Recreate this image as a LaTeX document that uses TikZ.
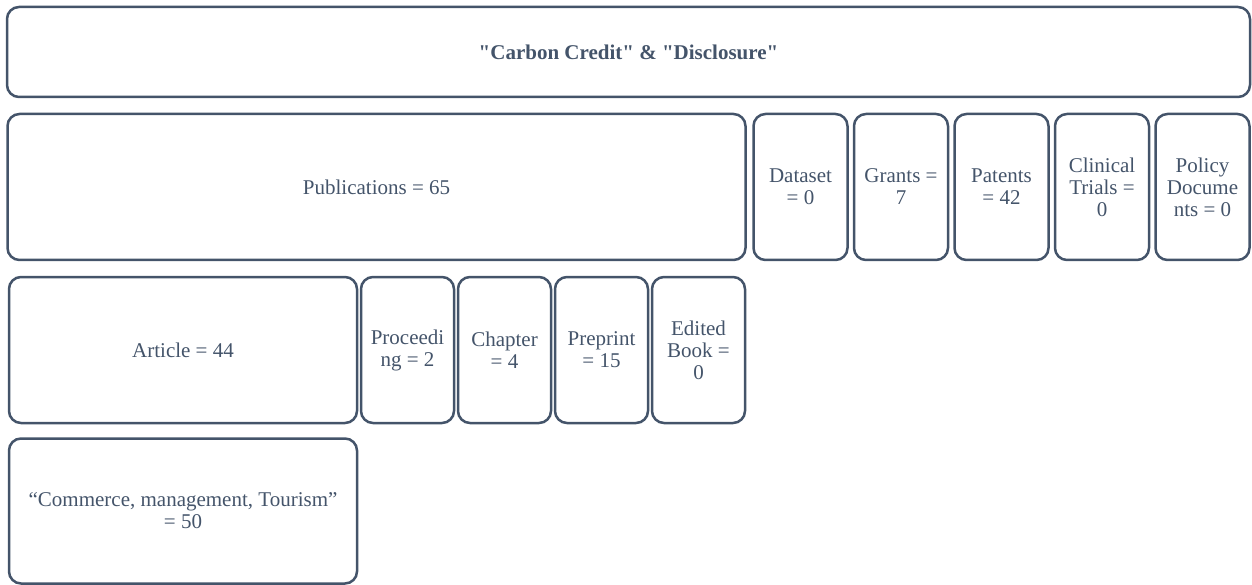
\documentclass[tikz,border=0pt]{standalone}
\usepackage{fontspec}
\setmainfont{Liberation Serif}
\usetikzlibrary{positioning}
\definecolor{slate}{HTML}{44546A}
\tikzset{
  box/.style={draw=slate, line width=2.5pt, rounded corners=12pt, text=slate,
    align=center, inner sep=0pt, outer sep=0pt, font=\fontsize{21}{22}\selectfont},
  tall/.style={box, minimum width=93pt, minimum height=146pt},
}
\begin{document}
\begin{tikzpicture}[x=1pt,y=-1pt]
    \useasboundingbox (0,0) rectangle (1252,585);
    \node (title) [box, minimum width=1243pt, minimum height=90pt,
      font=\fontsize{21}{22}\selectfont\bfseries] at (628.5,52)
      {\textquotedbl Carbon Credit\textquotedbl{} \& \textquotedbl Disclosure\textquotedbl};
    % second row
    \node (pub) [box, minimum width=738pt, minimum height=146pt] at (376.5,187) {Publications = 65};
    \node (dataset) [tall, minimum width=94pt, right=8pt of pub] {Dataset\\= 0};
    \node (grants) [tall, minimum width=94pt, right=6.5pt of dataset] {Grants =\\7};
    \node (patents) [tall, minimum width=94pt, right=6.5pt of grants] {Patents\\= 42};
    \node (clinical) [tall, minimum width=94pt, right=6.5pt of patents] {Clinical\\Trials =\\0};
    \node (policy) [tall, minimum width=94pt, right=6.5pt of clinical] {Policy\\Docume\\nts = 0};
    % third row
    \node (article) [box, minimum width=348pt, minimum height=146pt] at (183,350) {Article = 44};
    \node (proceeding) [tall, right=4pt of article] {Proceedi\\ng = 2};
    \node (chapter) [tall, right=4pt of proceeding] {Chapter\\= 4};
    \node (preprint) [tall, right=4pt of chapter] {Preprint\\= 15};
    \node (edited) [tall, right=4pt of preprint] {Edited\\Book =\\0};
    % subject area
    \node (commerce) [box, minimum width=348pt, minimum height=145pt] at (183,511) {“Commerce, management, Tourism”\\= 50};
\end{tikzpicture}
\end{document}
